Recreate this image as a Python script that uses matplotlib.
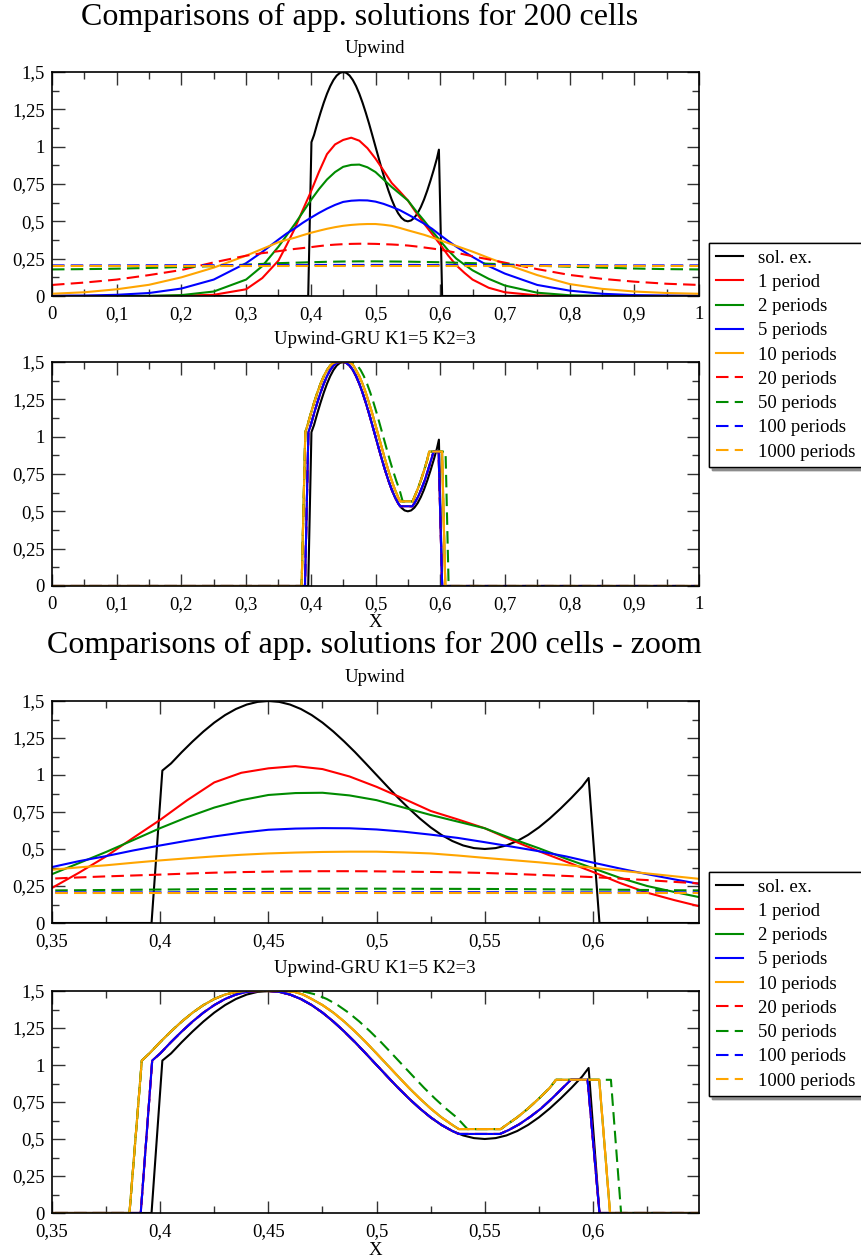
import matplotlib
matplotlib.use("Agg")
import matplotlib.pyplot as plt
from matplotlib.ticker import MultipleLocator, FuncFormatter

plt.rcParams['font.family'] = ['Liberation Serif', 'DejaVu Serif']

# ---------------- data ----------------
# exact solution
EX_X = [0.0, 0.396, 0.401, 0.405, 0.41, 0.415, 0.42, 0.425, 0.43, 0.435, 0.44, 0.445, 0.45,
        0.455, 0.46, 0.465, 0.47, 0.475, 0.48, 0.485, 0.49, 0.495, 0.5, 0.505, 0.51, 0.515,
        0.52, 0.525, 0.53, 0.535, 0.54, 0.545, 0.55, 0.555, 0.56, 0.565, 0.57, 0.575, 0.58,
        0.585, 0.59, 0.595, 0.598, 0.603, 1.0]
EX_Y = [0.0, 0.0, 1.03, 1.078, 1.155, 1.227, 1.294, 1.354, 1.405, 1.446, 1.476, 1.494, 1.5,
        1.494, 1.476, 1.446, 1.405, 1.354, 1.294, 1.227, 1.155, 1.078, 1.0, 0.922, 0.845,
        0.773, 0.706, 0.646, 0.595, 0.554, 0.524, 0.506, 0.5, 0.506, 0.524, 0.554, 0.595,
        0.646, 0.706, 0.773, 0.845, 0.922, 0.98, 0.0, 0.0]

# Upwind scheme
UPW_X = [0.0, 0.05, 0.1, 0.15, 0.2, 0.25, 0.3, 0.325,
         0.35, 0.3625, 0.375, 0.3875, 0.4, 0.4125, 0.425, 0.4375, 0.45, 0.4625, 0.475,
         0.4875, 0.5, 0.5125, 0.525, 0.5375, 0.55, 0.5625, 0.575, 0.5875, 0.6, 0.6125,
         0.625, 0.6375, 0.65,
         0.675, 0.7, 0.75, 0.8, 0.85, 0.9, 0.95, 1.0]
upw_p1 = [0, 0, 0, 0, 0.002, 0.008, 0.045, 0.12,
          0.237, 0.34, 0.45, 0.575, 0.697, 0.83, 0.95, 1.015, 1.045, 1.06, 1.04,
          0.99, 0.92, 0.84, 0.757, 0.70, 0.64, 0.56, 0.485, 0.415, 0.345, 0.27,
          0.205, 0.155, 0.11,
          0.055, 0.025, 0.004, 0, 0, 0, 0, 0]
upw_p2 = [0, 0, 0, 0.001, 0.006, 0.03, 0.11, 0.2,
          0.33, 0.405, 0.48, 0.56, 0.641, 0.715, 0.78, 0.83, 0.865, 0.878, 0.88,
          0.862, 0.83, 0.78, 0.73, 0.685, 0.64, 0.57, 0.505, 0.435, 0.37, 0.305,
          0.25, 0.21, 0.172,
          0.115, 0.07, 0.022, 0.005, 0.001, 0, 0, 0]
upw_p5 = [0.002, 0.003, 0.008, 0.02, 0.05, 0.11, 0.22, 0.295,
          0.378, 0.418, 0.452, 0.49, 0.524, 0.556, 0.585, 0.61, 0.63, 0.638, 0.641,
          0.64, 0.632, 0.617, 0.597, 0.575, 0.546, 0.516, 0.485, 0.45, 0.408, 0.368,
          0.33, 0.295, 0.262,
          0.2, 0.15, 0.074, 0.036, 0.015, 0.006, 0.003, 0.002]
upw_p10 = [0.015, 0.025, 0.045, 0.075, 0.125, 0.19, 0.27, 0.315,
           0.36, 0.376, 0.39, 0.407, 0.423, 0.437, 0.45, 0.461, 0.47, 0.476, 0.48,
           0.482, 0.482, 0.477, 0.47, 0.456, 0.44, 0.425, 0.41, 0.392, 0.373, 0.354,
           0.335, 0.316, 0.297,
           0.255, 0.215, 0.14, 0.08, 0.048, 0.03, 0.02, 0.015]
upw_p20 = [0.074, 0.09, 0.11, 0.14, 0.174, 0.225, 0.27, 0.287,
           0.3, 0.308, 0.315, 0.321, 0.327, 0.334, 0.34, 0.344, 0.347, 0.349, 0.35,
           0.35, 0.349, 0.347, 0.345, 0.342, 0.338, 0.332, 0.325, 0.318, 0.31, 0.3,
           0.29, 0.278, 0.266,
           0.245, 0.223, 0.18, 0.141, 0.115, 0.096, 0.082, 0.074]
upw_p50 = [0.178, 0.18, 0.183, 0.188, 0.194, 0.2, 0.21, 0.215,
           0.22, 0.2215, 0.223, 0.2245, 0.226, 0.2275, 0.229, 0.23, 0.231, 0.2315, 0.232,
           0.232, 0.232, 0.2315, 0.231, 0.2305, 0.23, 0.229, 0.228, 0.227, 0.226, 0.2245,
           0.223, 0.2215, 0.22,
           0.216, 0.212, 0.203, 0.196, 0.19, 0.184, 0.18, 0.178]
upw_p100 = [0.205, 0.205, 0.205, 0.206, 0.206, 0.206, 0.207, 0.207,
            0.207, 0.207, 0.207, 0.207, 0.207, 0.208, 0.208, 0.208, 0.208, 0.208, 0.208,
            0.208, 0.208, 0.208, 0.208, 0.208, 0.208, 0.208, 0.207, 0.207, 0.207, 0.207,
            0.207, 0.207, 0.207,
            0.206, 0.206, 0.206, 0.206, 0.205, 0.205, 0.205, 0.205]
upw_p1000 = [0.2] * len(UPW_X)

# Upwind-GRU K1=5 K2=3 (curves that overlap share the same trace)
# trace A: 1, 5, 20, 100 periods
GRU_A_X = [0.0, 0.391, 0.3963, 0.4, 0.405, 0.41, 0.415, 0.42, 0.425, 0.43, 0.435, 0.44,
           0.445, 0.45, 0.455, 0.46, 0.465, 0.47, 0.475, 0.48, 0.485, 0.49, 0.495, 0.5,
           0.505, 0.51, 0.515, 0.52, 0.525, 0.53, 0.535, 0.538, 0.557, 0.561, 0.566,
           0.571, 0.576, 0.581, 0.586, 0.5898, 0.5975, 0.603, 1.0]
GRU_A_Y = [0, 0, 1.03, 1.078, 1.155, 1.227, 1.294, 1.354, 1.405, 1.446, 1.476, 1.494,
           1.5, 1.5, 1.494, 1.476, 1.446, 1.405, 1.354, 1.294, 1.227, 1.155, 1.078, 1.0,
           0.922, 0.845, 0.773, 0.706, 0.646, 0.595, 0.554, 0.534, 0.534, 0.56, 0.6,
           0.65, 0.706, 0.773, 0.845, 0.9, 0.9, 0, 0]
# trace B: 2, 10, 1000 periods
GRU_B_X = [0.0, 0.3858, 0.3915, 0.395, 0.4, 0.405, 0.41, 0.415, 0.42, 0.425, 0.43, 0.435,
           0.44, 0.458, 0.462, 0.466, 0.47, 0.475, 0.48, 0.485, 0.49, 0.495, 0.5, 0.505,
           0.51, 0.515, 0.52, 0.525, 0.53, 0.535, 0.538, 0.5574, 0.56, 0.565, 0.57, 0.575,
           0.58, 0.5829, 0.6029, 0.6079, 1.0]
GRU_B_Y = [0, 0, 1.03, 1.078, 1.155, 1.227, 1.294, 1.354, 1.405, 1.446, 1.476, 1.494,
           1.5, 1.5, 1.494, 1.476, 1.446, 1.405, 1.354, 1.294, 1.227, 1.155, 1.078, 1.0,
           0.922, 0.845, 0.773, 0.706, 0.646, 0.595, 0.567, 0.567, 0.595, 0.646, 0.706,
           0.773, 0.845, 0.9, 0.9, 0, 0]
# trace C: 50 periods
GRU_C_X = [0.0, 0.3858, 0.3915, 0.395, 0.4, 0.405, 0.41, 0.415, 0.42, 0.425, 0.43, 0.435,
           0.44, 0.462, 0.467, 0.472, 0.477, 0.482, 0.487, 0.492, 0.497, 0.502, 0.507,
           0.512, 0.517, 0.522, 0.527, 0.532, 0.537, 0.542, 0.5574, 0.56, 0.565, 0.57,
           0.575, 0.58, 0.5829, 0.6083, 0.613, 1.0]
GRU_C_Y = [0, 0, 1.03, 1.078, 1.155, 1.227, 1.294, 1.354, 1.405, 1.446, 1.476, 1.494,
           1.5, 1.5, 1.494, 1.476, 1.446, 1.405, 1.354, 1.294, 1.227, 1.155, 1.078,
           1.0, 0.922, 0.845, 0.773, 0.706, 0.646, 0.567, 0.567, 0.595, 0.646, 0.706,
           0.773, 0.845, 0.9, 0.9, 0, 0]

LABELS = ['sol. ex.', '1 period', '2 periods', '5 periods', '10 periods',
          '20 periods', '50 periods', '100 periods', '1000 periods']
COLORS = ['black', '#ff0000', '#008b00', '#0000ff', '#ffa500',
          '#ff0000', '#008b00', '#0000ff', '#ffa500']
STYLES = ['-', '-', '-', '-', '-', '--', '--', '--', '--']

upw_series = [(EX_X, EX_Y), (UPW_X, upw_p1), (UPW_X, upw_p2), (UPW_X, upw_p5),
              (UPW_X, upw_p10), (UPW_X, upw_p20), (UPW_X, upw_p50), (UPW_X, upw_p100),
              (UPW_X, upw_p1000)]
gru_series = [(EX_X, EX_Y), (GRU_A_X, GRU_A_Y), (GRU_B_X, GRU_B_Y), (GRU_A_X, GRU_A_Y),
              (GRU_B_X, GRU_B_Y), (GRU_A_X, GRU_A_Y), (GRU_C_X, GRU_C_Y),
              (GRU_A_X, GRU_A_Y), (GRU_B_X, GRU_B_Y)]

W, H = 862, 1260
FS = 13.5


def comma(v, pos):
    return f"{v:g}".replace('.', ',')


def make_axes(fig, top, bottom, xlim, major, minor):
    ax = fig.add_axes([52 / W, 1 - bottom / H, 647 / W, (bottom - top) / H])
    ax.set_xlim(*xlim)
    ax.set_ylim(0, 1.5)
    ax.xaxis.set_major_locator(MultipleLocator(major))
    ax.xaxis.set_minor_locator(MultipleLocator(minor))
    ax.yaxis.set_major_locator(MultipleLocator(0.25))
    ax.yaxis.set_minor_locator(MultipleLocator(0.125))
    ax.xaxis.set_major_formatter(FuncFormatter(comma))
    ax.yaxis.set_major_formatter(FuncFormatter(comma))
    ax.tick_params(which='both', direction='in', top=True, right=True,
                   labelsize=FS, width=1.0, color='#333333')
    ax.tick_params(which='major', length=9)
    ax.tick_params(which='minor', length=5)
    ax.tick_params(axis='x', which='major', pad=7)
    ax.tick_params(axis='y', which='major', pad=5)
    for s in ax.spines.values():
        s.set_linewidth(1.2)
    return ax


def draw(ax, series):
    lines = []
    for (x, y), lab, c, ls in zip(series, LABELS, COLORS, STYLES):
        ln, = ax.plot(x, y, color=c, linestyle=ls, linewidth=1.5, label=lab,
                      dashes=(6, 3) if ls == '--' else (None, None))
        lines.append(ln)
    return lines


fig = plt.figure(figsize=(W / 100, H / 100), dpi=100)

# full domain
ax1 = make_axes(fig, 72, 296, (0, 1), 0.1, 0.05)
handles = draw(ax1, upw_series)
ax2 = make_axes(fig, 362, 586, (0, 1), 0.1, 0.05)
draw(ax2, gru_series)

# zoom
ax3 = make_axes(fig, 701, 923, (0.35, 0.649), 0.05, 0.025)
draw(ax3, upw_series)
ax4 = make_axes(fig, 991, 1213, (0.35, 0.649), 0.05, 0.025)
draw(ax4, gru_series)


def ftext(x, y, s, size, ha='center'):
    fig.text(x / W, 1 - y / H, s, fontsize=size, ha=ha, va='baseline')


ftext(360, 25, 'Comparisons of app. solutions for 200 cells', 23)
ftext(375, 53, 'Upwind', FS)
ftext(375, 344, 'Upwind-GRU K1=5 K2=3', FS)
ftext(375, 627, 'X', FS)
ftext(374, 653, 'Comparisons of app. solutions for 200 cells - zoom', 23)
ftext(375, 682, 'Upwind', FS)
ftext(375, 973, 'Upwind-GRU K1=5 K2=3', FS)
ftext(375, 1255, 'X', FS)

for top in (243, 872):
    leg = fig.legend(handles=handles, loc='upper left',
                     bbox_to_anchor=(709 / W, 1 - top / H), fontsize=FS,
                     frameon=True, fancybox=False, edgecolor='black', framealpha=1,
                     handlelength=1.45, handletextpad=0.8, labelspacing=0.38,
                     borderpad=0.35, borderaxespad=0,
                     shadow={'color': '0.55', 'alpha': 1})
    leg.get_frame().set_linewidth(1.0)
    fig.add_artist(leg)

fig.savefig('out.png', dpi=100)
